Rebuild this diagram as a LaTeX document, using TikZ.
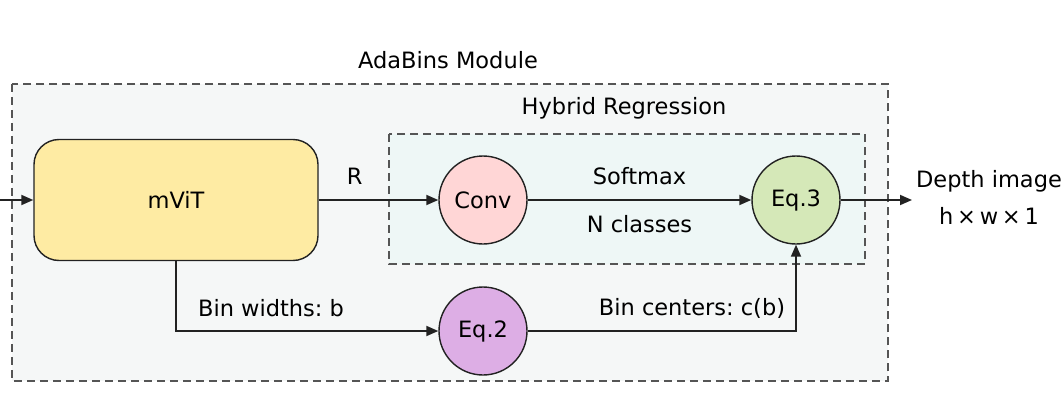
\documentclass[tikz,border=0pt]{standalone}
\usepackage{fontspec}
\setmainfont{DejaVu Sans}
\frenchspacing
\usetikzlibrary{arrows.meta}
\definecolor{outerfill}{HTML}{F5F7F7}
\definecolor{innerfill}{HTML}{EEF7F6}
\definecolor{vitfill}{HTML}{FEEBA3}
\definecolor{convfill}{HTML}{FFD6D6}
\definecolor{eqthreefill}{HTML}{D5E8B8}
\definecolor{eqtwofill}{HTML}{DDAEE5}
\definecolor{linec}{HTML}{222222}
\definecolor{dashc}{HTML}{555555}
\begin{document}
\begin{tikzpicture}[x=1pt,y=-1pt,
  font=\fontsize{22.5}{27}\selectfont,
  groupbox/.style={draw=dashc, line width=1.2pt, dash pattern=on 8pt off 5pt},
  circ/.style={circle, draw=linec, line width=1.4pt, minimum size=88pt, inner sep=0pt},
  conn/.style={draw=linec, line width=1.8pt, -{Triangle[length=12pt,width=10pt]}},
  lbl/.style={inner sep=0pt, anchor=center}]
\useasboundingbox (0,0) rectangle (1062,412);
\path[groupbox, fill=outerfill] (12,84) rectangle (888,381);
\path[groupbox, fill=innerfill] (389,134) rectangle (865,264);
\node[lbl] (adabins) at (448,60) {AdaBins Module};
\node[lbl] (hybrid) at (624,108) {Hybrid Regression};
\node[draw=linec, line width=1.4pt, fill=vitfill, rounded corners=25pt,
  minimum width=284pt, minimum height=121pt, inner sep=0pt] (vit) at (176,200) {mViT};
\node[circ, fill=convfill] (conv) at (483,200) {Conv};
\node[circ, fill=eqthreefill] (eq3) at (796,200) {Eq.3};
\node[circ, fill=eqtwofill] (eq2) at (483,331) {Eq.2};
\coordinate (in) at (0,200);
\coordinate (out) at (912,200);
\node[lbl] (depth) at (989,181) {Depth image};
\node[lbl] (dims) at (989,216) {h\,×\,w\,×\,1};
\draw[conn] (in) -- (vit.west);
\draw[conn] (vit.east) -- node[lbl, pos=0.3, yshift=24pt] (rlbl) {R} (conv.west);
\draw[conn] (conv.east) -- node[lbl, yshift=24pt] (softmax) {Softmax} node[lbl, yshift=-24pt] (ncls) {N classes} (eq3.west);
\draw[conn] (eq3.east) -- (out);
\draw[conn] (vit.south) |- (eq2.west);
\node[lbl] (binw) at (271,308) {Bin widths: b};
\draw[conn] (eq2.east) -| (eq3.south);
\node[lbl] (binc) at (692,308) {Bin centers: c(b)};
\end{tikzpicture}
\end{document}
